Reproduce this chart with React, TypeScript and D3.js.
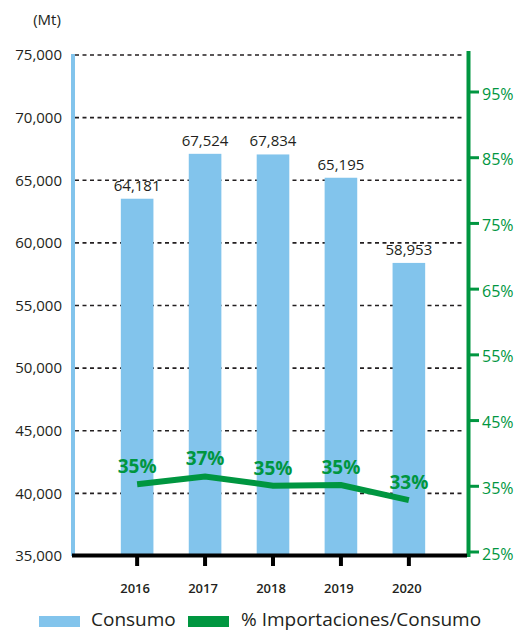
import * as d3 from 'd3';

const years = ['2016', '2017', '2018', '2019', '2020'];
// bar heights as drawn in the source (they don't quite match the printed labels)
const consumo = [63525, 67110, 67060, 65200, 58400];
const consumoLabels = ['64,181', '67,524', '67,834', '65,195', '58,953'];
const importShare = [35.3, 36.5, 35.1, 35.2, 32.9];
const importLabels = ['35%', '37%', '35%', '35%', '33%'];
const leftTicks = [35000, 40000, 45000, 50000, 55000, 60000, 65000, 70000, 75000];
const rightTicks = [25, 35, 45, 55, 65, 75, 85, 95];

const W = 529;
const H = 631;
const BLUE = '#82C4EC';
const GREEN = '#009640';
const INK = '#231F20';
const FONT = '"Open Sans", "Noto Sans", sans-serif';

export default function App() {
  const x = d3.scaleBand().domain(years).range([85.5, 460.5]).padding(0.52);
  const y = d3.scaleLinear().domain([35000, 75000]).range([556, 55]);
  const yr = d3.scaleLinear().domain([25, 95]).range([552, 92]);
  const cx = (d: string) => x(d)! + x.bandwidth() / 2;

  const line = d3.line<number>()
    .x((_, i) => cx(years[i]))
    .y((d) => yr(d));

  const fmt = d3.format(',');

  return (
    <svg width={W} height={H} style={{ position: 'absolute', left: 0, top: 0 }} fontFamily={FONT}>
      <rect width={W} height={H} fill="#fff" />
      <text x={47} y={25} fontSize={15} textAnchor="middle" fill={INK}>(Mt)</text>

      {/* dashed gridlines */}
      {leftTicks.slice(1).map((t) => (
        <line key={t} x1={75} x2={463} y1={y(t)} y2={y(t)} stroke={INK} strokeWidth={1.6} strokeDasharray="4,3.5" />
      ))}
      {leftTicks.map((t) => (
        <text key={t} x={62} y={y(t)} dy="0.35em" fontSize={15} textAnchor="end" fill={INK}>{fmt(t)}</text>
      ))}

      {/* bars */}
      {consumo.map((v, i) => (
        <rect key={years[i]} x={x(years[i])} y={y(v)} width={x.bandwidth()} height={y(35000) - y(v)} fill={BLUE} />
      ))}
      {consumo.map((v, i) => (
        <text key={years[i]} x={cx(years[i])} y={y(v) - 8} fontSize={15} textAnchor="middle" fill={INK}>{consumoLabels[i]}</text>
      ))}

      {/* axes */}
      <line x1={73} x2={73} y1={54} y2={556} stroke={BLUE} strokeWidth={4} />
      <line x1={468.5} x2={468.5} y1={51} y2={557} stroke={GREEN} strokeWidth={4} />
      <line x1={72} x2={467} y1={555.5} y2={555.5} stroke="#000" strokeWidth={4} />
      {years.map((d) => (
        <g key={d}>
          <line x1={cx(d)} x2={cx(d)} y1={555} y2={566} stroke="#000" strokeWidth={4} />
          <text x={cx(d) - 2} y={593} fontSize={13} fontWeight={600} textAnchor="middle" fill={INK}>{d}</text>
        </g>
      ))}
      {rightTicks.map((t) => (
        <g key={t}>
          <line x1={468} x2={479} y1={yr(t)} y2={yr(t)} stroke={GREEN} strokeWidth={3} />
          <text x={482} y={yr(t) + 2} dy="0.35em" fontSize={16} fill={GREEN}>{t}%</text>
        </g>
      ))}

      {/* share line */}
      <path d={line(importShare)!} fill="none" stroke={GREEN} strokeWidth={6} />
      {importShare.map((v, i) => (
        <text key={years[i]} x={cx(years[i])} y={yr(v) - 11} fontSize={19} fontWeight={700} textAnchor="middle" fill={GREEN}>{importLabels[i]}</text>
      ))}

      {/* legend */}
      <rect x={39} y={616} width={41} height={11} fill={BLUE} />
      <text x={91} y={626} fontSize={19} fill={INK}>Consumo</text>
      <rect x={188} y={616} width={41} height={11} fill={GREEN} />
      <text x={241} y={626} fontSize={19} fill={INK}>% Importaciones/Consumo</text>
    </svg>
  );
}
